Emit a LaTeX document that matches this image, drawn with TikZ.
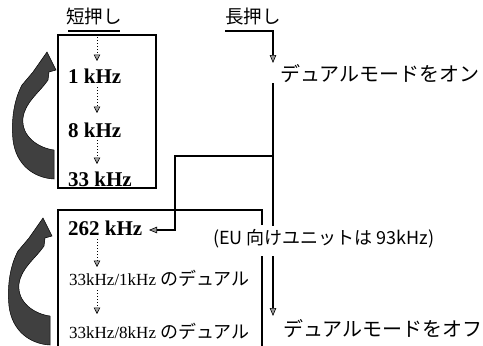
\documentclass[tikz,border=0pt]{standalone}
\usepackage{fontspec}
\setmainfont{Liberation Serif}
\newfontfamily\jp{Noto Sans CJK JP}
\usetikzlibrary{arrows.meta}
\begin{document}
\begin{tikzpicture}[x=1pt,y=-1pt,
  boxline/.style={line width=1.6pt},
  lbl/.style={inner sep=0pt, anchor=base west},
  khz/.style={lbl, font=\bfseries\fontsize{21}{21}\selectfont},
  dual/.style={lbl, font=\fontsize{17}{17}\selectfont},
  jplbl/.style={inner sep=0pt, font=\jp\fontsize{18.5}{19}\selectfont},
  jpwide/.style={inner sep=0pt, font=\jp\fontsize{20}{20}\selectfont},
  eulbl/.style={inner sep=0pt, font=\jp\fontsize{18}{18}\selectfont},
  dotarrow/.style={dotted, line width=1pt, -{Triangle[width=6.5pt,length=6.5pt,fill=black!35,line width=0.6pt]}},
  lpline/.style={line width=1.3pt},
  lparrow/.style={line width=1.3pt, -{Triangle[width=6.5pt,length=8pt,fill=black!40,line width=0.6pt]}},
  bigarrow/.style={fill=black!75, draw=black, line width=0.5pt}
]
\useasboundingbox (0,0) rectangle (483,346);
\clip (0,0) rectangle (483,346);

% headings
\node[jplbl] (tan) at (94,16) {短押し};
\node[jplbl] (cho) at (253,16) {長押し};

% top box
\node[draw, boxline, minimum width=98pt, minimum height=153pt, inner sep=0pt] (topbox) at (107,111.5) {};
\node[khz] (k1) at (68,83) {1 kHz};
\node[khz] (k8) at (68,137) {8 kHz};
\node[khz] (k33) at (68,186) {33 kHz};

% bottom box
\coordinate (bb1) at (262,225);
\coordinate (bb2) at (262,210);
\coordinate (bb3) at (58,210);
\coordinate (bb4) at (58,352);
\coordinate (bb5) at (262,256);
\coordinate (bb6) at (262,352);
\draw[boxline] (bb1) -- (bb2) -- (bb3) -- (bb4);
\draw[boxline] (bb5) -- (bb6);

\node[khz] (k262) at (68,235) {262 kHz};
\node[dual] (d1) at (69,285) {33kHz/1kHz {\jp\fontsize{18}{18}\selectfont のデュアル}};
\node[dual] (d2) at (69,338) {33kHz/8kHz {\jp\fontsize{18}{18}\selectfont のデュアル}};

% right-hand labels
\node[jpwide, anchor=west] (on) at (280,74) {デュアルモードをオン};
\node[jpwide, anchor=west] (off) at (283,329) {デュアルモードをオフ};
\node[eulbl, anchor=west] (eu) at (213,239) {(EU 向けユニットは 93kHz)};

% short-press chain
\coordinate (tanL) at (68,31);
\coordinate (tanR) at (120,31);
\coordinate (s0) at (97,31);
\coordinate (s1) at (97,61);
\coordinate (s2a) at (97,87);
\coordinate (s2b) at (97,113);
\coordinate (s3a) at (97,140);
\coordinate (s3b) at (97,164);
\coordinate (s4a) at (97,239);
\coordinate (s4b) at (97,267);
\coordinate (s5a) at (97,290);
\coordinate (s5b) at (97,314);
\draw[line width=1.2pt] (tanL) -- (tanR);
\draw[dotarrow] (s0) -- (s1);
\draw[dotarrow] (s2a) -- (s2b);
\draw[dotarrow] (s3a) -- (s3b);
\draw[dotarrow] (s4a) -- (s4b);
\draw[dotarrow] (s5a) -- (s5b);

% long-press chain
\coordinate (lA) at (225,31);
\coordinate (lB) at (273,31);
\coordinate (lC) at (273,63);
\coordinate (lD) at (273,83);
\coordinate (lJ) at (273,156);
\coordinate (lE) at (273,226);
\coordinate (lK) at (175,156);
\coordinate (lL) at (175,230);
\coordinate (lM) at (149,230);
\coordinate (lN) at (273,256);
\coordinate (lO) at (273,316);
\draw[lparrow] (lA) -- (lB) -- (lC);
\draw[lpline] (lD) -- (lJ) -- (lE);
\draw[lparrow] (lJ) -- (lK) -- (lL) -- (lM);
\draw[lparrow] (lN) -- (lO);

% big curved arrows
\newcommand{\bigcurl}{(47,52) -- (56,70) -- (49,72) -- (48,80)
  .. controls (40,92) and (25,102) .. (23,118)
  .. controls (21,136) and (38,148) .. (54,150) -- (54,179)
  .. controls (34,178) and (16,165) .. (13,140)
  .. controls (11,120) and (14,100) .. (22,85) -- (33,72) -- cycle}
\path[bigarrow] \bigcurl;
\begin{scope}[shift={(-4,166)}]
\path[bigarrow] \bigcurl;
\end{scope}
\end{tikzpicture}
\end{document}
